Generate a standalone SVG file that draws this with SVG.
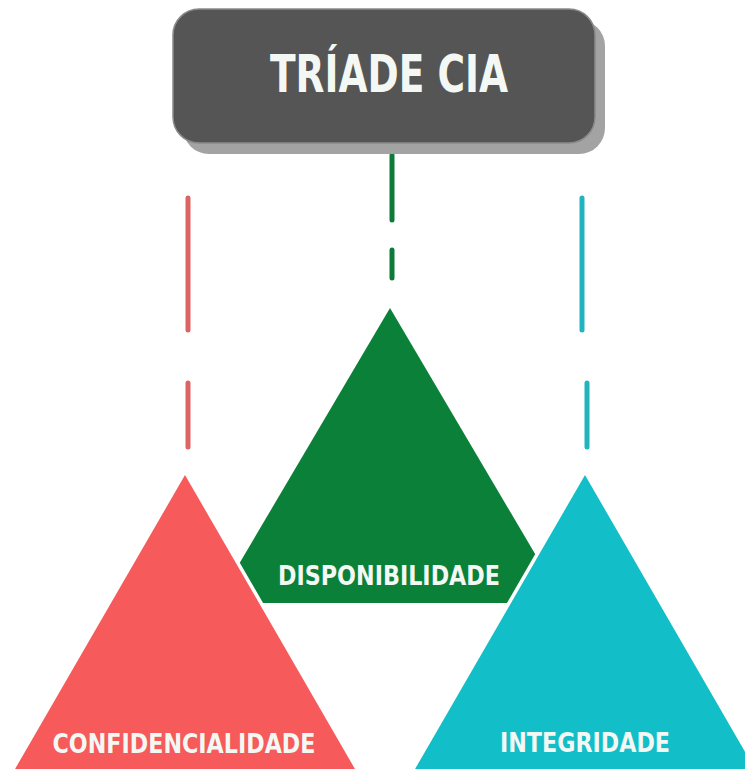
<svg xmlns="http://www.w3.org/2000/svg" width="745" height="769" viewBox="0 0 745 769">
  <style>
    .lbl { font-family: "DejaVu Sans", "Liberation Sans", Arial, sans-serif; font-weight: bold; fill: #f4f8f4; text-anchor: middle; }
    .dash { fill: none; stroke-width: 5; stroke-linecap: round; }
    .tri { stroke: #ffffff; stroke-width: 7; stroke-linejoin: miter; paint-order: stroke; }
  </style>
  <rect width="745" height="769" fill="#ffffff"/>
  <g id="connectors">
    <line class="dash" x1="392" y1="155" x2="392" y2="220" stroke="#0e7a3a"/>
    <line class="dash" x1="392" y1="250" x2="392" y2="278" stroke="#0e7a3a"/>
    <line class="dash" x1="188" y1="198" x2="188" y2="330" stroke="#de6464"/>
    <line class="dash" x1="188" y1="383" x2="188" y2="447" stroke="#de6464"/>
    <line class="dash" x1="582" y1="198" x2="582" y2="330" stroke="#22b4be"/>
    <line class="dash" x1="587" y1="383" x2="587" y2="447" stroke="#22b4be"/>
  </g>
  <g id="title">
    <rect x="183" y="20" width="422" height="134" rx="26" fill="#a3a3a3"/>
    <rect x="173" y="9" width="422" height="134" rx="26" fill="#555555" stroke="#8a8a8a" stroke-width="1.5"/>
    <text class="lbl" x="389" y="92" font-size="51" textLength="238" lengthAdjust="spacingAndGlyphs">TRÍADE CIA</text>
  </g>
  <g id="disponibilidade">
    <polygon points="390,308 216,603 564,603" fill="#0b8038"/>
    <text class="lbl" x="389" y="585" font-size="27" textLength="222" lengthAdjust="spacingAndGlyphs">DISPONIBILIDADE</text>
  </g>
  <g id="confidencialidade">
    <polygon class="tri" points="185,475 11,776 359,776" fill="#f65a5a"/>
    <text class="lbl" x="184" y="753" font-size="27" textLength="263" lengthAdjust="spacingAndGlyphs">CONFIDENCIALIDADE</text>
  </g>
  <g id="integridade">
    <polygon class="tri" points="585,475 411,776 759,776" fill="#12bec7"/>
    <text class="lbl" x="585" y="752" font-size="27" textLength="170" lengthAdjust="spacingAndGlyphs">INTEGRIDADE</text>
  </g>
</svg>
